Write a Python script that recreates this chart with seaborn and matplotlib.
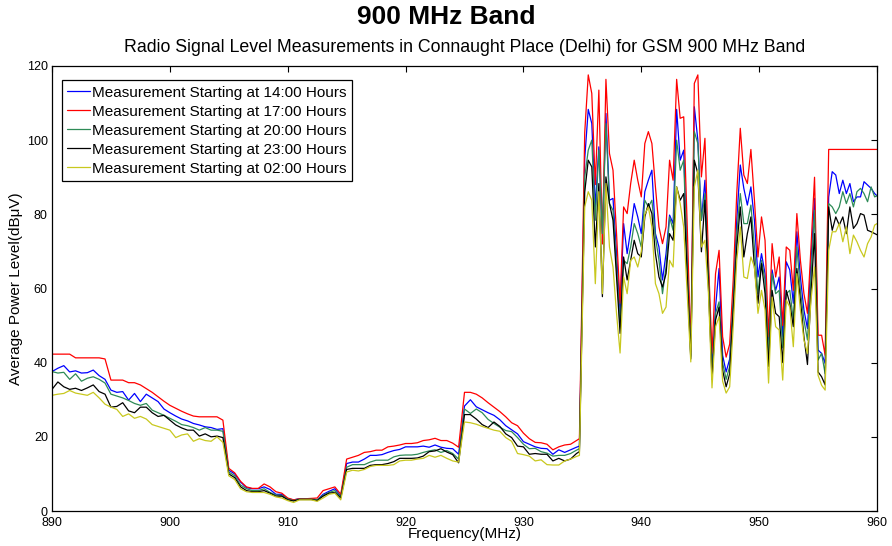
import numpy as np
import pandas as pd
import matplotlib
matplotlib.use("Agg")
import matplotlib.pyplot as plt
import seaborn as sns

# ---------------- data ----------------
freq = list(np.round(np.arange(890.0, 934.51, 0.5), 2)) + [934.75] + \
       list(np.round(np.arange(935.2, 959.81, 0.3), 2)) + [960.0]

series_names = ["Measurement Starting at 14:00 Hours",
                "Measurement Starting at 17:00 Hours",
                "Measurement Starting at 20:00 Hours",
                "Measurement Starting at 23:00 Hours",
                "Measurement Starting at 02:00 Hours"]
series_colors = ["#0000ff", "#ff0000", "#2e8b57", "#000000", "#c8c81e"]

level_14h = [
    37.6, 38.5, 39.2, 37.5, 37.8, 37.2, 37.3, 38.0, 36.5, 35.5,
    32.6, 32.0, 32.2, 29.9, 31.7, 29.5, 31.5, 30.5, 29.5, 27.5,
    26.5, 25.6, 24.8, 24.3, 23.6, 23.2, 22.7, 22.5, 22.0, 22.2,
    11.0, 10.0, 7.8, 6.3, 6.0, 6.0, 6.5, 5.8, 4.5, 4.5,
    3.3, 3.0, 3.3, 3.3, 3.3, 3.0, 4.5, 5.3, 6.0, 4.0,
    12.8, 13.2, 13.2, 14.0, 15.0, 15.0, 15.2, 15.8, 16.3, 16.6,
    17.3, 17.3, 17.3, 17.5, 17.2, 17.8, 17.2, 16.9, 16.8, 15.3,
    28.3, 30.0, 28.1, 27.3, 26.5, 25.8, 24.6, 23.0, 21.9, 20.8,
    18.7, 18.0, 17.3, 16.9, 16.8, 15.3, 16.5, 15.8, 16.5, 17.2,
    17.5,
    95.0, 108.3, 104.5, 82.0, 98.2, 74.8, 107.2, 83.8, 84.3, 69.4,
    53.3, 77.5, 69.4, 75.7, 82.9, 79.3, 74.8, 86.1, 89.2, 91.9,
    74.8, 71.2, 62.3, 69.4, 79.8, 77.5, 108.3, 94.6, 97.3, 67.6,
    42.0, 109.0, 100.0, 78.4, 89.2, 64.0, 38.5, 55.0, 65.4, 42.0,
    37.5, 41.0, 56.9, 78.4, 93.3, 87.0, 82.5, 87.4, 78.4, 63.1,
    69.4, 64.0, 44.0, 65.0, 59.5, 63.1, 47.0, 67.2, 65.0, 56.0,
    75.3, 63.1, 54.2, 49.2, 67.6, 84.3, 43.4, 42.5, 39.8, 84.7,
    91.5, 90.6, 85.6, 89.2, 85.6, 88.3, 83.4, 84.7, 84.7, 88.8,
    87.9, 87.0, 85.6, 85.0]

level_17h = [
    42.3, 42.3, 42.3, 42.3, 41.3, 41.3, 41.3, 41.3, 41.3, 41.0,
    35.3, 35.3, 35.3, 34.6, 34.6, 34.0, 33.0, 32.0, 30.8, 29.6,
    28.5, 27.7, 26.9, 26.2, 25.6, 25.4, 25.4, 25.4, 25.4, 24.5,
    11.5, 10.3, 8.0, 6.5, 6.1, 6.1, 7.3, 6.5, 5.2, 4.8,
    3.5, 3.0, 3.3, 3.3, 3.4, 3.5, 5.5, 6.0, 6.5, 4.5,
    14.0, 14.5, 15.0, 15.8, 16.0, 16.4, 16.4, 17.3, 17.5, 17.8,
    18.2, 18.2, 18.4, 19.0, 19.2, 19.6, 19.0, 19.0, 18.3, 17.2,
    32.0, 32.0, 31.5, 30.5, 29.2, 28.0, 26.8, 25.4, 23.8, 23.0,
    21.0, 19.5, 18.5, 18.4, 18.0, 16.5, 17.3, 17.8, 18.0, 19.0,
    19.5,
    102.0, 117.6, 112.6, 88.0, 113.5, 72.0, 116.4, 96.4, 91.9, 74.8,
    56.0, 82.0, 80.2, 88.3, 94.6, 89.2, 84.7, 99.1, 102.3, 99.1,
    87.4, 76.6, 72.1, 76.6, 94.6, 89.2, 116.4, 105.9, 106.3, 76.6,
    43.0, 115.3, 117.6, 90.1, 100.5, 67.6, 42.5, 64.0, 70.3, 47.0,
    41.5, 45.0, 62.3, 85.6, 103.2, 90.6, 88.3, 97.5, 83.8, 68.5,
    79.3, 73.0, 47.0, 72.1, 63.1, 68.5, 50.0, 71.2, 70.3, 59.5,
    80.2, 67.6, 58.6, 53.3, 71.2, 90.0, 47.4, 47.4, 42.0, 97.5,
    97.5, 97.5, 97.5, 97.5, 97.5, 97.5, 97.5, 97.5, 97.5, 97.5,
    97.5, 97.5, 97.5, 97.5]

level_20h = [
    37.6, 37.2, 37.4, 35.5, 37.0, 35.0, 35.8, 36.2, 35.5, 34.5,
    31.5, 31.0, 30.5, 29.8, 29.0, 28.5, 29.0, 27.2, 26.5, 25.8,
    25.0, 24.2, 23.3, 23.0, 22.5, 21.8, 22.5, 21.8, 21.8, 21.5,
    10.5, 9.5, 7.0, 6.0, 5.5, 5.5, 6.0, 5.0, 4.3, 4.2,
    3.2, 2.8, 3.2, 3.2, 3.2, 3.0, 4.2, 5.0, 5.5, 3.8,
    11.8, 12.5, 12.5, 12.5, 13.2, 13.7, 13.7, 13.7, 14.6, 15.0,
    15.1, 15.1, 15.3, 15.8, 16.2, 16.5, 15.8, 16.3, 15.5, 14.0,
    27.5, 26.3, 27.5, 26.5, 24.7, 23.6, 22.6, 21.7, 21.4, 19.8,
    18.0, 16.8, 16.9, 16.0, 15.6, 14.8, 15.0, 15.0, 15.5, 16.4,
    16.8,
    90.0, 97.3, 100.0, 78.4, 97.3, 74.8, 104.5, 82.9, 81.1, 65.8,
    49.7, 67.6, 66.7, 71.2, 77.5, 74.8, 71.2, 83.8, 82.0, 83.8,
    73.9, 67.6, 58.6, 65.8, 79.3, 75.7, 100.0, 91.9, 94.6, 65.8,
    41.5, 102.3, 99.1, 78.4, 85.6, 63.1, 37.0, 53.3, 56.4, 40.0,
    35.5, 39.0, 56.0, 74.8, 85.6, 77.5, 77.5, 82.5, 71.2, 58.6,
    67.6, 62.3, 42.0, 64.0, 58.6, 59.5, 44.0, 58.6, 59.5, 51.5,
    71.2, 59.5, 51.5, 46.1, 63.1, 81.1, 40.7, 42.5, 37.0, 82.9,
    82.0, 80.2, 82.0, 86.1, 82.9, 85.6, 82.0, 86.1, 87.0, 85.6,
    83.4, 87.4, 84.7, 85.0]

level_23h = [
    32.8, 34.8, 33.5, 32.8, 33.1, 32.5, 33.2, 34.0, 32.2, 31.5,
    28.0, 28.2, 29.2, 27.0, 26.5, 28.0, 28.0, 26.5, 25.5, 25.8,
    24.5, 23.2, 22.4, 21.8, 21.8, 20.2, 20.8, 20.0, 20.2, 19.8,
    10.0, 9.0, 6.5, 5.5, 5.2, 5.2, 5.5, 4.8, 4.0, 4.0,
    3.0, 2.7, 3.1, 3.1, 3.1, 2.8, 4.0, 4.8, 5.0, 3.5,
    11.2, 11.5, 11.5, 11.5, 12.3, 12.5, 12.5, 12.8, 13.3, 14.2,
    14.2, 14.2, 14.3, 14.8, 16.0, 16.2, 16.8, 15.9, 15.2, 13.0,
    26.0, 26.0, 24.8, 23.3, 22.5, 24.0, 22.8, 20.8, 19.8, 17.5,
    17.3, 15.3, 15.5, 15.3, 15.3, 13.5, 14.2, 13.5, 14.0, 15.5,
    16.0,
    86.0, 94.6, 92.8, 71.2, 88.3, 57.8, 90.1, 82.9, 78.4, 63.1,
    47.9, 68.5, 62.3, 67.6, 73.0, 69.4, 68.5, 79.3, 82.9, 80.2,
    69.4, 63.1, 60.4, 64.0, 74.8, 73.0, 87.4, 83.8, 85.6, 63.1,
    41.0, 94.6, 91.0, 69.9, 83.8, 60.4, 35.5, 51.5, 55.0, 38.0,
    33.5, 37.0, 54.2, 71.2, 82.0, 68.5, 74.8, 79.3, 65.8, 56.0,
    66.7, 58.6, 39.0, 59.5, 53.3, 52.4, 40.0, 59.5, 56.0, 49.7,
    65.4, 56.9, 47.0, 39.5, 58.6, 74.8, 37.5, 36.2, 34.0, 82.0,
    75.7, 79.3, 77.1, 79.3, 74.8, 82.0, 76.2, 77.5, 80.2, 79.8,
    75.7, 75.3, 74.8, 74.5]

level_02h = [
    31.2, 31.5, 31.7, 32.5, 31.8, 31.5, 31.2, 32.0, 30.5, 28.8,
    28.0, 27.4, 25.5, 26.2, 25.0, 25.5, 24.8, 23.3, 22.8, 22.3,
    21.8, 19.8, 20.5, 20.8, 18.8, 19.5, 19.0, 18.8, 20.0, 18.5,
    9.5, 8.5, 6.0, 5.2, 5.0, 5.0, 5.0, 4.5, 3.8, 3.5,
    2.8, 2.3, 3.0, 3.0, 3.0, 2.6, 3.5, 4.5, 4.8, 3.0,
    10.5, 11.0, 10.8, 11.2, 12.0, 12.3, 12.3, 12.3, 12.5, 13.5,
    13.7, 13.7, 14.0, 14.2, 15.0, 14.5, 15.0, 14.2, 13.5, 13.2,
    24.0, 23.8, 23.4, 22.8, 22.3, 21.8, 21.5, 19.8, 18.8, 15.5,
    15.2, 14.8, 13.5, 13.8, 12.5, 12.4, 12.4, 13.5, 14.0, 14.7,
    15.0,
    82.0, 86.1, 83.8, 61.3, 86.1, 58.6, 88.3, 71.2, 65.8, 53.3,
    42.6, 63.1, 58.6, 67.6, 68.5, 65.8, 70.0, 80.0, 82.0, 76.6,
    61.3, 58.6, 53.3, 55.0, 67.6, 65.8, 87.4, 82.9, 76.6, 58.6,
    40.2, 87.4, 91.9, 71.2, 73.0, 58.6, 33.2, 49.7, 52.4, 35.0,
    31.8, 33.5, 49.7, 67.6, 76.6, 63.1, 62.7, 68.5, 65.8, 53.3,
    59.5, 54.2, 34.5, 57.7, 49.7, 48.8, 35.3, 56.9, 55.0, 44.3,
    64.0, 54.2, 46.1, 42.5, 56.9, 65.8, 36.6, 33.9, 32.6, 70.3,
    75.3, 75.3, 77.5, 72.6, 76.6, 69.4, 74.4, 72.6, 70.3, 68.5,
    72.1, 73.9, 77.1, 77.5]

x_ticks = [890, 900, 910, 920, 930, 940, 950, 960]
y_ticks = [0, 20, 40, 60, 80, 100, 120]

all_levels = [level_14h, level_17h, level_20h, level_23h, level_02h]
for lv in all_levels:
    assert len(lv) == len(freq), (len(lv), len(freq))

df = pd.concat([pd.DataFrame({"freq": freq, "level": lv, "series": name})
                for lv, name in zip(all_levels, series_names)],
               ignore_index=True)

# ---------------- plot ----------------
sns.set_style("white")
plt.rcParams["font.family"] = ["Liberation Sans", "DejaVu Sans"]
plt.rcParams["text.color"] = "black"
plt.rcParams["axes.labelcolor"] = "black"

fig = plt.figure(figsize=(8.92, 5.46), dpi=100)
ax = fig.add_axes([52/892, 1-511/546, 825/892, 445/546])

sns.lineplot(data=df, x="freq", y="level", hue="series",
             hue_order=series_names,
             palette=dict(zip(series_names, series_colors)),
             estimator=None, sort=False, linewidth=0.9, ax=ax)

ax.set_xlim(890, 960)
ax.set_ylim(0, 120)
ax.set_xticks(x_ticks)
ax.set_yticks(y_ticks)
ax.tick_params(direction="in", top=True, right=True, length=4, width=0.8,
               labelsize=9, colors="black")
ax.tick_params(axis="x", pad=4.5)
ax.tick_params(axis="y", pad=3)
for s in ax.spines.values():
    s.set_color("black")
    s.set_linewidth(0.9)

ax.set_xlabel("Frequency(MHz)", fontsize=11, labelpad=-1.5)
ax.set_ylabel("Average Power Level(dBμV)", fontsize=11, labelpad=3)

handles, labels = ax.get_legend_handles_labels()
leg = ax.legend(handles, labels, loc="upper left", bbox_to_anchor=(0.012, 0.968),
                borderaxespad=0, fontsize=11, frameon=True, fancybox=False,
                framealpha=1, edgecolor="black", handlelength=1.5,
                handletextpad=0.15, labelspacing=0.33, borderpad=0.35)
leg.get_frame().set_linewidth(0.9)

fig.text(0.5, 1-17/546, "900 MHz Band", ha="center", va="center",
         fontsize=19, fontweight="bold")
ax.text(0.5, 1-48/546,
        "Radio Signal Level Measurements in Connaught Place (Delhi) for GSM 900 MHz Band",
        ha="center", va="center", fontsize=12.8,
        transform=matplotlib.transforms.blended_transform_factory(ax.transAxes, fig.transFigure))

fig.savefig("out.png", dpi=100)
